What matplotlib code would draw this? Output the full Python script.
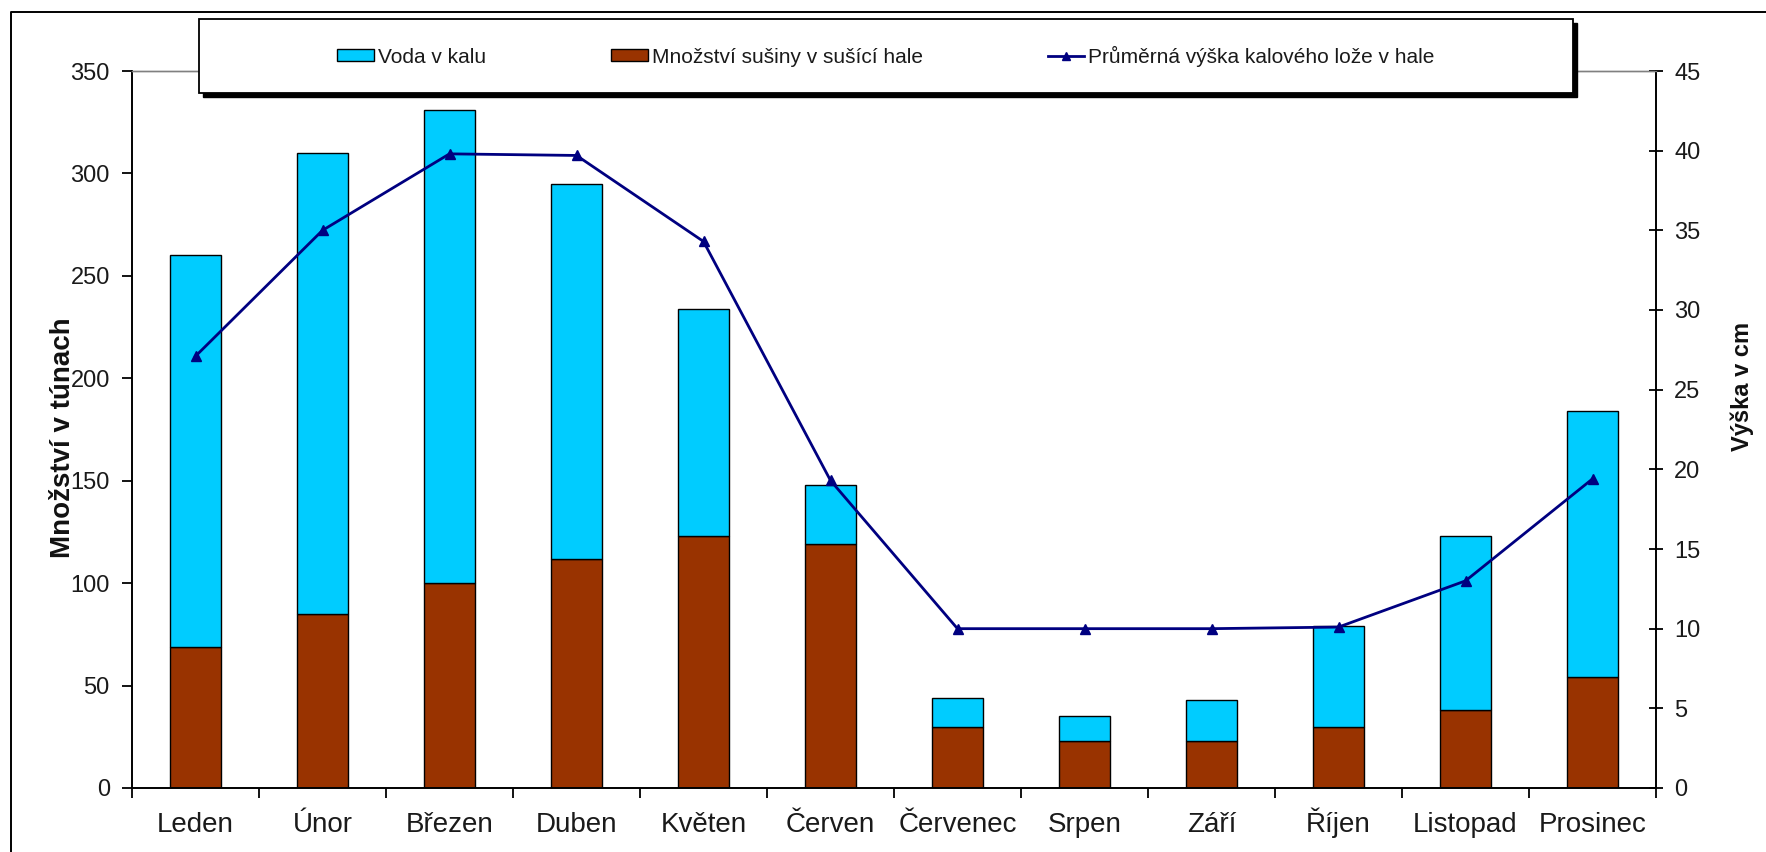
import matplotlib
matplotlib.use("Agg")
import matplotlib.pyplot as plt
from matplotlib.patches import Rectangle, Patch
from matplotlib.lines import Line2D
import numpy as np

plt.rcParams['font.family'] = ['Liberation Sans', 'DejaVu Sans']

months = ["Leden", "Únor", "Březen", "Duben", "Květen", "Červen",
          "Červenec", "Srpen", "Září", "Říjen", "Listopad", "Prosinec"]
susina = [69, 85, 100, 112, 123, 119, 30, 23, 23, 30, 38, 54]
voda = [191, 225, 231, 183, 111, 29, 14, 12, 20, 49, 85, 130]
vyska = [27.1, 35.0, 39.8, 39.7, 34.3, 19.3, 10.0, 10.0, 10.0, 10.1, 13.0, 19.4]

c_voda = "#00CCFF"
c_susina = "#993300"
c_line = "#000080"

W, H = 1766, 852
fig = plt.figure(figsize=(W / 100, H / 100), dpi=100)
fig.patch.set_facecolor("white")

def fx(px):
    return px / W

def fy(py):
    return 1 - py / H

left, right, top, bottom = 132, 1656, 71, 788
ax = fig.add_axes([fx(left), fy(bottom), fx(right) - fx(left), fy(top) - fy(bottom)])
ax2 = ax.twinx()

x = np.arange(len(months))
ax.bar(x, susina, width=0.4, color=c_susina, edgecolor="black", linewidth=1.0, zorder=2)
ax.bar(x, voda, width=0.4, bottom=susina, color=c_voda, edgecolor="black", linewidth=1.0, zorder=2)
ax2.plot(x, vyska, color=c_line, linewidth=2.0, marker="^", markersize=6.5, zorder=3)

ax.set_xlim(-0.5, len(months) - 0.5)
ax.set_ylim(0, 350)
ax2.set_ylim(0, 45)
ax.set_yticks(np.arange(0, 351, 50))
ax2.set_yticks(np.arange(0, 46, 5))

ax.set_xticks(x)
ax.set_xticklabels(months, fontsize=20, color="#1a1a1a")
for lab in ax.get_xticklabels():
    lab.set_verticalalignment("baseline")
ax.set_xticks(np.arange(-0.5, len(months), 1), minor=True)
ax.tick_params(axis="x", which="major", length=0, pad=32)
ax.tick_params(axis="x", which="minor", length=7, width=1.3, direction="out")
ax.tick_params(axis="y", length=7, width=1.3, direction="out", labelsize=17,
               labelcolor="#1a1a1a", pad=9)
ax2.tick_params(axis="y", length=10, width=1.3, direction="inout", labelsize=17,
                labelcolor="#1a1a1a", pad=8)

for a in (ax, ax2):
    a.spines["top"].set_color("#808080")
    a.spines["top"].set_linewidth(1.0)
    a.spines["left"].set_linewidth(1.4)
    a.spines["right"].set_linewidth(1.4)
    a.spines["bottom"].set_linewidth(1.4)
ax.spines["right"].set_visible(False)
ax2.spines["left"].set_visible(False)
ax2.spines["bottom"].set_visible(False)

fig.text(fx(63), fy(438), "Množství v túnach", rotation=90, ha="center", va="center",
         fontsize=20, fontweight="bold", color="#111111")
fig.text(fx(1742), fy(386), "Výška v cm", rotation=90, ha="center", va="center",
         fontsize=17, fontweight="bold", color="#111111")

# outer chart frame (left and top edges)
fig.add_artist(Line2D([fx(11), fx(11), 1.0], [0, fy(12), fy(12)],
                      transform=fig.transFigure, color="black", linewidth=1.4))

# legend box with a solid shadow
lx0, lx1, ly0, ly1 = 199, 1573, 19, 93
sh = 4
fig.add_artist(Rectangle((fx(lx0 + sh), fy(ly1 + sh)), fx(lx1) - fx(lx0), fy(ly0) - fy(ly1),
                         transform=fig.transFigure, facecolor="black", edgecolor="black", zorder=5))
fig.add_artist(Rectangle((fx(lx0), fy(ly1)), fx(lx1) - fx(lx0), fy(ly0) - fy(ly1),
                         transform=fig.transFigure, facecolor="white", edgecolor="black",
                         linewidth=1.3, zorder=6))

handles = [
    Patch(facecolor=c_voda, edgecolor="black", linewidth=1.0),
    Patch(facecolor=c_susina, edgecolor="black", linewidth=1.0),
    Line2D([], [], color=c_line, linewidth=2.0, marker="^", markersize=6),
]
labels = ["Voda v kalu", "Množství sušiny v sušící hale", "Průměrná výška kalového lože v hale"]
leg = fig.legend(handles, labels, loc="center",
                 bbox_to_anchor=(fx((lx0 + lx1) / 2), fy((ly0 + ly1) / 2)),
                 ncol=3, frameon=False, fontsize=15, columnspacing=6.0, handlelength=1.75,
                 handletextpad=0.2, handleheight=0.5)
for t in leg.get_texts():
    t.set_color("#1a1a1a")
leg.set_zorder(7)

fig.savefig("out.png", dpi=100, facecolor="white")
